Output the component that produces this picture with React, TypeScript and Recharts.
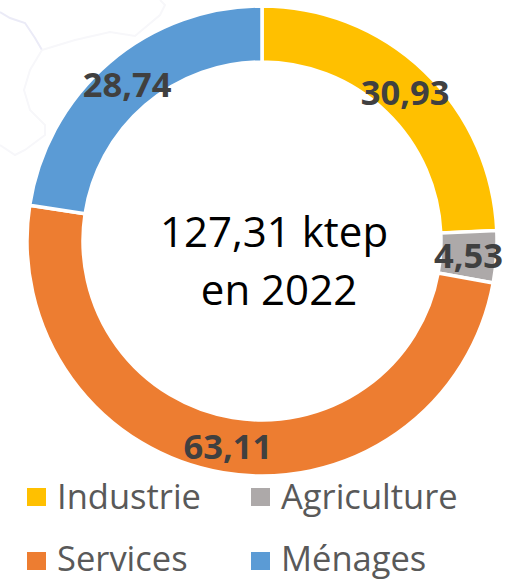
import { PieChart, Pie, Cell } from "recharts";

const categories = ["Industrie", "Agriculture", "Services", "Ménages"];
const values = [30.93, 4.53, 63.11, 28.74];
const labels = ["30,93", "4,53", "63,11", "28,74"];
const colors = ["#FFC000", "#ADA9A9", "#ED7D31", "#5B9BD5"];
const centerLines = ["127,31 ktep", "en 2022"];

const rows = categories.map((name, i) => ({ name, value: values[i], label: labels[i] }));
const font = "'Open Sans', 'Noto Sans', sans-serif";

const legendPos = [
  { x: 27, y: 479 },
  { x: 251, y: 479 },
  { x: 27, y: 543 },
  { x: 251, y: 543 },
];

const RADIAN = Math.PI / 180;

function renderLabel(props: any) {
  const { cx, cy, midAngle, outerRadius, innerRadius, index } = props;
  const r = (outerRadius + innerRadius) / 2;
  const x = cx + r * Math.cos(-midAngle * RADIAN);
  const y = cy + r * Math.sin(-midAngle * RADIAN);
  return (
    <text
      x={x}
      y={y}
      textAnchor="middle"
      dominantBaseline="central"
      fontFamily={font}
      fontSize={34.5}
      fontWeight={700}
      fill="#404040"
    >
      {rows[index].label}
    </text>
  );
}

export default function App() {
  return (
    <div style={{ position: "absolute", left: 0, top: 0, width: 516, height: 581, background: "#fff" }}>
      {/* faint map outline behind the ring */}
      <svg width={516} height={581} style={{ position: "absolute", left: 0, top: 0 }}>
        <path d="M0 12 L10 18 L25 23 L35 38 L42 50" fill="none" stroke="#EBEBF7" strokeWidth={2} />
        <path
          d="M42 50 L75 40 L110 32 L135 36 L160 15 L165 5 L160 0 M42 50 L30 70 L24 90 L30 110 L45 125 L45 135 L25 150 L15 155 L0 145"
          fill="none"
          stroke="#F7F7FA"
          strokeWidth={2}
        />
      </svg>
      <div style={{ position: "absolute", left: 0, top: 0 }}>
        <PieChart width={516} height={581} margin={{ top: 0, right: 0, bottom: 0, left: 0 }}>
          <Pie
            data={rows}
            dataKey="value"
            cx={262}
            cy={241}
            innerRadius={179}
            outerRadius={235}
            startAngle={90}
            endAngle={-270}
            stroke="#fff"
            strokeWidth={3.5}
            label={renderLabel}
            labelLine={false}
            isAnimationActive={false}
          >
            {rows.map((r, i) => (
              <Cell key={r.name} fill={colors[i]} />
            ))}
          </Pie>
          <text x={274} y={247} textAnchor="middle" fontFamily={font} fontSize={42} fill="#000">
            {centerLines[0]}
          </text>
          <text x={279} y={305} textAnchor="middle" fontFamily={font} fontSize={42} fill="#000">
            {centerLines[1]}
          </text>
          {categories.map((c, i) => (
            <g key={c}>
              <rect x={legendPos[i].x} y={legendPos[i].y + 9} width={19} height={18} fill={colors[i]} />
              <text
                x={legendPos[i].x + 30}
                y={legendPos[i].y + (i < 2 ? 30 : 28)}
                fontFamily={font}
                fontSize={34.5}
                fill="#595959"
              >
                {c}
              </text>
            </g>
          ))}
        </PieChart>
      </div>
    </div>
  );
}
